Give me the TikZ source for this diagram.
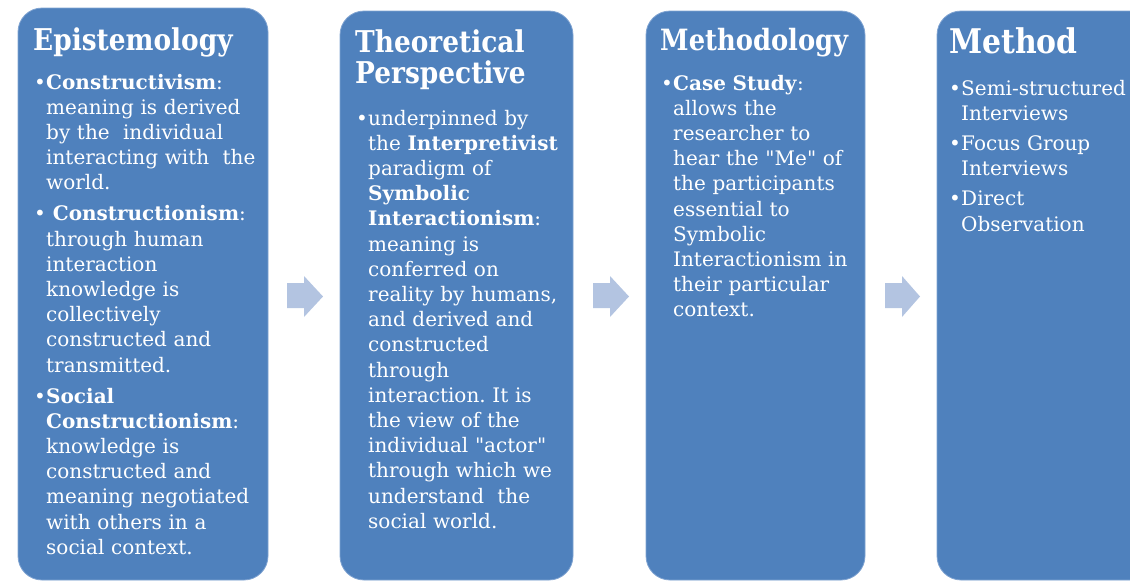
\documentclass[tikz,border=0pt]{standalone}
\usepackage{fontspec}
\setmainfont{DejaVu Serif}[Ligatures=TeXOff]
% narrower bold face for the stage headings
\newfontfamily\headingfont{DejaVu Serif Bold}[FakeStretch=0.88]
\definecolor{boxblue}{HTML}{4F81BD}
\definecolor{boxedge}{HTML}{7FA3D1}
\definecolor{arrowblue}{HTML}{B3C4E1}
\newlength\stageindent
\setlength\stageindent{11pt}
% one bulleted paragraph with a hanging indent
\newcommand\stagebullet[1]{\hangindent=\stageindent\hangafter=1\noindent
  \makebox[\stageindent][l]{\kern-1pt •}#1\par}
\frenchspacing
\begin{document}
\begin{tikzpicture}[x=1pt,y=-1pt,
  stage/.style={fill=boxblue, draw=boxedge, line width=0.8pt, rounded corners=24pt},
  heading/.style={anchor=base west, inner sep=0pt, text=white, text width=400pt,
    font=\headingfont\fontsize{#1}{31.5}\selectfont},
  body/.style={anchor=base west, inner sep=0pt, text=white, text width=400pt,
    font=\fontsize{20}{25.2}\selectfont\frenchspacing},
  flow/.style={fill=arrowblue}]
\useasboundingbox (0,0) rectangle (1130,581);

% the four stages
\draw[stage] (18,8) rectangle (268,580);
\draw[stage] (340,11) rectangle (573,580);
\draw[stage] (646,11) rectangle (865,580);
\draw[stage] (937,11) rectangle (1160,580);

% block arrows between the stages
\fill[flow] (287,283) -- (304,283) -- (304,276) -- (323,296.5) -- (304,317) -- (304,308) -- (287,308) -- cycle;
\fill[flow] (593,283) -- (610,283) -- (610,276) -- (629,296.5) -- (610,317) -- (610,308) -- (593,308) -- cycle;
\fill[flow] (885,283) -- (902,283) -- (902,276) -- (920,296.5) -- (902,317) -- (902,308) -- (885,308) -- cycle;

% Epistemology
\node[heading=30] (epi-title) at (33,50) {Epistemology};
\node[body] (epi-text) at (35,89) {%
\stagebullet{\textbf{Constructivism}:\newline meaning is derived\newline by the \ individual\newline interacting with \ the\newline world.}\vskip5.8pt
\stagebullet{\ \textbf{Constructionism}:\newline through human\newline interaction\newline knowledge is\newline collectively\newline constructed and\newline transmitted.}\vskip5.8pt
\stagebullet{\textbf{Social}\newline \textbf{Constructionism}:\newline knowledge is\newline constructed and\newline meaning negotiated\newline with others in a\newline social context.}};

% Theoretical perspective
\node[heading=30] (theory-title) at (355,52) {Theoretical\newline Perspective};
\node[body] (theory-text) at (357,125) {%
\stagebullet{underpinned by\newline the \textbf{Interpretivist}\newline paradigm of\newline \textbf{Symbolic}\newline \textbf{Interactionism}:\newline meaning is\newline conferred on\newline reality by humans,\newline and derived and\newline constructed\newline through\newline interaction. It is\newline the view of the\newline individual "actor"\newline through which we\newline understand \ the\newline social world.}};

% Methodology
\node[heading=29.3] (method-title) at (660,50) {Methodology};
\node[body] (method-text) at (662,90) {%
\stagebullet{\textbf{Case Study}:\newline allows the\newline researcher to\newline hear the "Me" of\newline the participants\newline essential to\newline Symbolic\newline Interactionism in\newline their particular\newline context.}};

% Method
\node[heading=34] (tools-title) at (949,53) {Method};
\node[body] (tools-text) at (950,95) {%
\stagebullet{Semi-structured\newline Interviews}\vskip5pt
\stagebullet{Focus Group\newline Interviews}\vskip5pt
\stagebullet{Direct\newline Observation}};
\end{tikzpicture}
\end{document}
